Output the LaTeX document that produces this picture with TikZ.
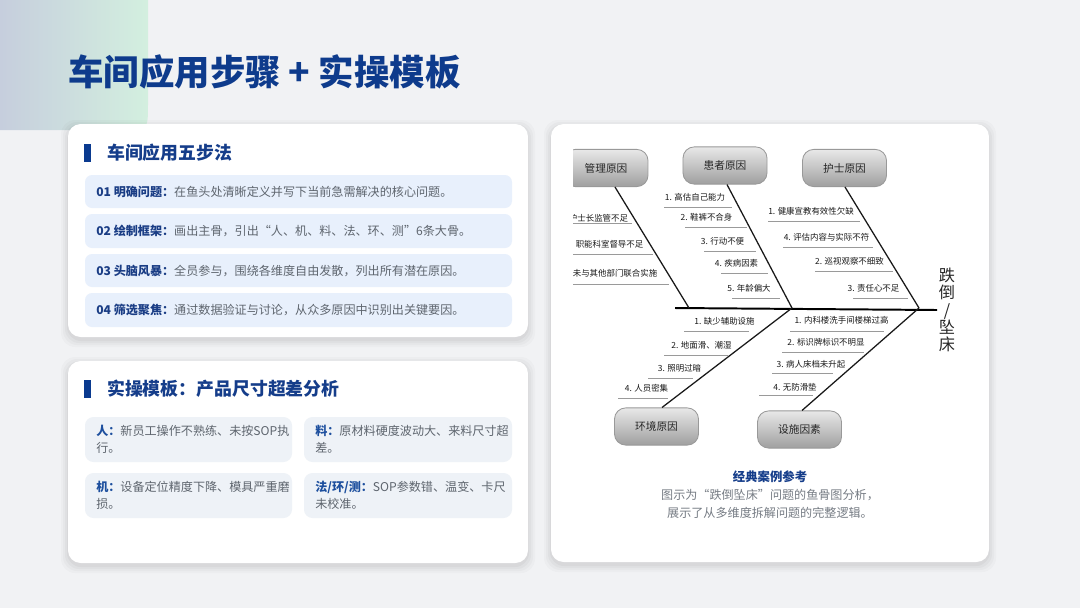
\documentclass[tikz,border=0pt]{standalone}
\usepackage{fontspec}
\setmainfont{Noto Sans CJK SC}
\usetikzlibrary{calc}
\definecolor{bgc}{HTML}{F1F2F4}
\definecolor{decoA}{HTML}{C6CEDD}
\definecolor{decoB}{HTML}{D3EFDF}
\definecolor{titleblue}{HTML}{0E3B8C}
\definecolor{headblue}{HTML}{153D8A}
\definecolor{barblue}{HTML}{0A3A8F}
\definecolor{stepbg}{HTML}{E8F0FC}
\definecolor{stepblue}{HTML}{1A3D85}
\definecolor{bodygray}{HTML}{5E656E}
\definecolor{subbg}{HTML}{EEF2F7}
\definecolor{subblue}{HTML}{1D4F9E}
\definecolor{ulgray}{HTML}{9A9A9A}
\begin{document}
\begin{tikzpicture}[x=0.025cm,y=-0.025cm,
  card/.style={fill=white, rounded corners=9pt},
  steprow/.style={fill=stepbg, rounded corners=5pt},
  subcard/.style={fill=subbg, rounded corners=6pt},
  headtxt/.style={anchor=west, inner sep=0, text=headblue, font=\fontsize{12.7}{15}\selectfont\bfseries},
  steptxt/.style={anchor=west, inner sep=0, text=bodygray, font=\fontsize{8.6}{12}\selectfont},
  subtxt/.style={anchor=north west, inner sep=0, align=left, text=bodygray, font=\fontsize{8.6}{12.2}\selectfont},
  fbox/.style={draw=gray!80, line width=0.6pt, rounded corners=8pt, top color=gray!18, bottom color=gray!75,
     minimum width=2.1cm, minimum height=0.93cm, inner sep=0, text=black!85, font=\fontsize{7.6}{9}\selectfont},
  lab/.style={inner sep=0, text=black!90, font=\fontsize{6}{7}\selectfont},
  ul/.style={draw=ulgray, line width=0.5pt},
  bone/.style={draw=black!90, line width=0.9pt},
  spine/.style={draw=black, line width=1.4pt}
]
\useasboundingbox (0,0) rectangle (1080,608);
\fill[bgc] (0,0) rectangle (1080,608);
% decorative corner
\shade[left color=decoA, right color=decoB] (0,0) -- (148,0) -- (148,104) .. controls (148,130) and (148,130) .. (122,130) -- (0,130) -- cycle;
% title
\node[anchor=west, inner sep=0, text=titleblue, font=\fontsize{25.2}{30}\selectfont\bfseries] (title) at (68,72) {车间应用步骤 + 实操模板};

% card shadows
\foreach \s/\o in {7/0.018,5/0.022,3/0.026,1/0.03}{
  \fill[black, opacity=\o, rounded corners=10pt] (68-\s,124-\s+3) rectangle (528+\s,337+\s+3);
  \fill[black, opacity=\o, rounded corners=10pt] (68-\s,361-\s+3) rectangle (528+\s,563+\s+3);
  \fill[black, opacity=\o, rounded corners=10pt] (551-\s,124-\s+3) rectangle (989+\s,562+\s+3);
}
\fill[card] (68,124) rectangle (528,337);
\fill[card] (68,361) rectangle (528,563);
\fill[card] (551,124) rectangle (989,562);

% card 1
\fill[barblue] (84,144) rectangle (91,162);
\node[headtxt] (h1) at (107,153) {车间应用五步法};
\fill[steprow] (85,175) rectangle (512,208);
\fill[steprow] (85,214) rectangle (512,248);
\fill[steprow] (85,254) rectangle (512,287);
\fill[steprow] (85,293) rectangle (512,327);
\node[steptxt] (s1) at (96,191.5) {{\bfseries\color{stepblue}01 明确问题：}在鱼头处清晰定义并写下当前急需解决的核心问题。};
\node[steptxt] (s2) at (96,231) {{\bfseries\color{stepblue}02 绘制框架：}画出主骨，引出“人、机、料、法、环、测”6条大骨。};
\node[steptxt] (s3) at (96,270.5) {{\bfseries\color{stepblue}03 头脑风暴：}全员参与，围绕各维度自由发散，列出所有潜在原因。};
\node[steptxt] (s4) at (96,310) {{\bfseries\color{stepblue}04 筛选聚焦：}通过数据验证与讨论，从众多原因中识别出关键要因。};

% card 2
\fill[barblue] (84,380) rectangle (91,398);
\node[headtxt] (h2) at (107,389) {实操模板：产品尺寸超差分析};
\fill[subcard] (85,417) rectangle (292,462);
\fill[subcard] (304,417) rectangle (512,462);
\fill[subcard] (85,473) rectangle (292,518);
\fill[subcard] (304,473) rectangle (512,518);
\node[subtxt] (t1) at (96,425) {{\bfseries\color{subblue}人：}新员工操作不熟练、未按SOP执\\行。};
\node[subtxt] (t2) at (315,425) {{\bfseries\color{subblue}料：}原材料硬度波动大、来料尺寸超\\差。};
\node[subtxt] (t3) at (96,481) {{\bfseries\color{subblue}机：}设备定位精度下降、模具严重磨\\损。};
\node[subtxt] (t4) at (315,481) {{\bfseries\color{subblue}法/环/测：}SOP参数错、温变、卡尺\\未校准。};

% fishbone
\begin{scope}
\clip (573,138) rectangle (972,456);
\coordinate (tail) at (675,308);
\coordinate (j1) at (689,308);
\coordinate (j2) at (792,308);
\coordinate (j3) at (919,308);
\node[inner sep=1pt, align=center, text=black!85, font=\fontsize{11.5}{12.3}\selectfont] (head) at (947,310) {跌\\倒\\/\\坠\\床};
\draw[spine] (tail) -- (head.west);
\node[fbox] (mgmt) at (606,168) {管理原因};
\node[fbox] (pat) at (725,165.5) {患者原因};
\node[fbox] (nur) at (844.5,168) {护士原因};
\node[fbox] (env) at (656.5,426.5) {环境原因};
\node[fbox] (fac) at (799.5,429.5) {设施因素};
\coordinate (mb) at (615,0);
\coordinate (pb) at (727,0);
\coordinate (nb) at (845,0);
\coordinate (eb) at (662,0);
\coordinate (fb) at (802,0);
\draw[bone] (mgmt.south -| mb) -- (j1);
\draw[bone] (pat.south -| pb) -- (j2);
\draw[bone] (nur.south -| nb) -- (j3);
\draw[bone] (env.north -| eb) -- (j2);
\draw[bone] (fac.north -| fb) -- (j3);
% management
\node[lab] (m1) at (598.5,218) {护士长监管不足};
\node[lab] (m2) at (609.5,244) {职能科室督导不足};
\node[lab] (m3) at (615,273) {未与其他部门联合实施};
\draw[ul] (560,223) -- (632,223);
\draw[ul] (560,254) -- (653,254);
\draw[ul] (560,284) -- (669,284);
% patient
\node[lab] (p1) at (695,197) {1. 高估自己能力};
\node[lab] (p2) at (706.5,217) {2. 鞋裤不合身};
\node[lab] (p3) at (722.5,241) {3. 行动不便};
\node[lab] (p4) at (736.5,263) {4. 疾病因素};
\node[lab] (p5) at (749,288) {5. 年龄偏大};
\draw[ul] (664,207) -- (732,207);
\draw[ul] (685,227) -- (747,227);
\draw[ul] (704,251) -- (756,251);
\draw[ul] (721,273) -- (768,273);
\draw[ul] (732,298) -- (780,298);
% nurse
\node[lab] (n1) at (811,211) {1. 健康宣教有效性欠缺};
\node[lab] (n2) at (826.5,237) {4. 评估内容与实际不符};
\node[lab] (n3) at (849.5,261) {2. 巡视观察不细致};
\node[lab] (n4) at (873.5,288) {3. 责任心不足};
\draw[ul] (768,221) -- (860,221);
\draw[ul] (783,247) -- (873,247);
\draw[ul] (815,271) -- (893,271);
\draw[ul] (853,298) -- (908,298);
% environment
\node[lab] (e1) at (724.5,321) {1. 缺少辅助设施};
\node[lab] (e2) at (701.5,345) {2. 地面滑、潮湿};
\node[lab] (e3) at (679.5,368) {3. 照明过暗};
\node[lab] (e4) at (646.5,388) {4. 人员密集};
\draw[ul] (684,331) -- (749,331);
\draw[ul] (664,355) -- (728,355);
\draw[ul] (648,378) -- (693,378);
\draw[ul] (618,398) -- (668,398);
% facility
\node[lab] (f1) at (841.5,320) {1. 内科楼洗手间楼梯过高};
\node[lab] (f2) at (826,342) {2. 标识牌标识不明显};
\node[lab] (f3) at (811,364) {3. 病人床档未升起};
\node[lab] (f4) at (795,387) {4. 无防滑垫};
\draw[ul] (790,331) -- (884,331);
\draw[ul] (782,352) -- (864,352);
\draw[ul] (772,373) -- (833,373);
\draw[ul] (759,395) -- (813,395);
\end{scope}

% caption
\node[inner sep=0, text=headblue, font=\fontsize{8.8}{11}\selectfont\bfseries] (c0) at (770,477) {经典案例参考};
\node[inner sep=0, text=bodygray!85, font=\fontsize{8.6}{11}\selectfont] (c1) at (770,495) {图示为“跌倒坠床”问题的鱼骨图分析，};
\node[inner sep=0, text=bodygray!85, font=\fontsize{8.6}{11}\selectfont] (c2) at (770,513) {展示了从多维度拆解问题的完整逻辑。};
\end{tikzpicture}
\end{document}
